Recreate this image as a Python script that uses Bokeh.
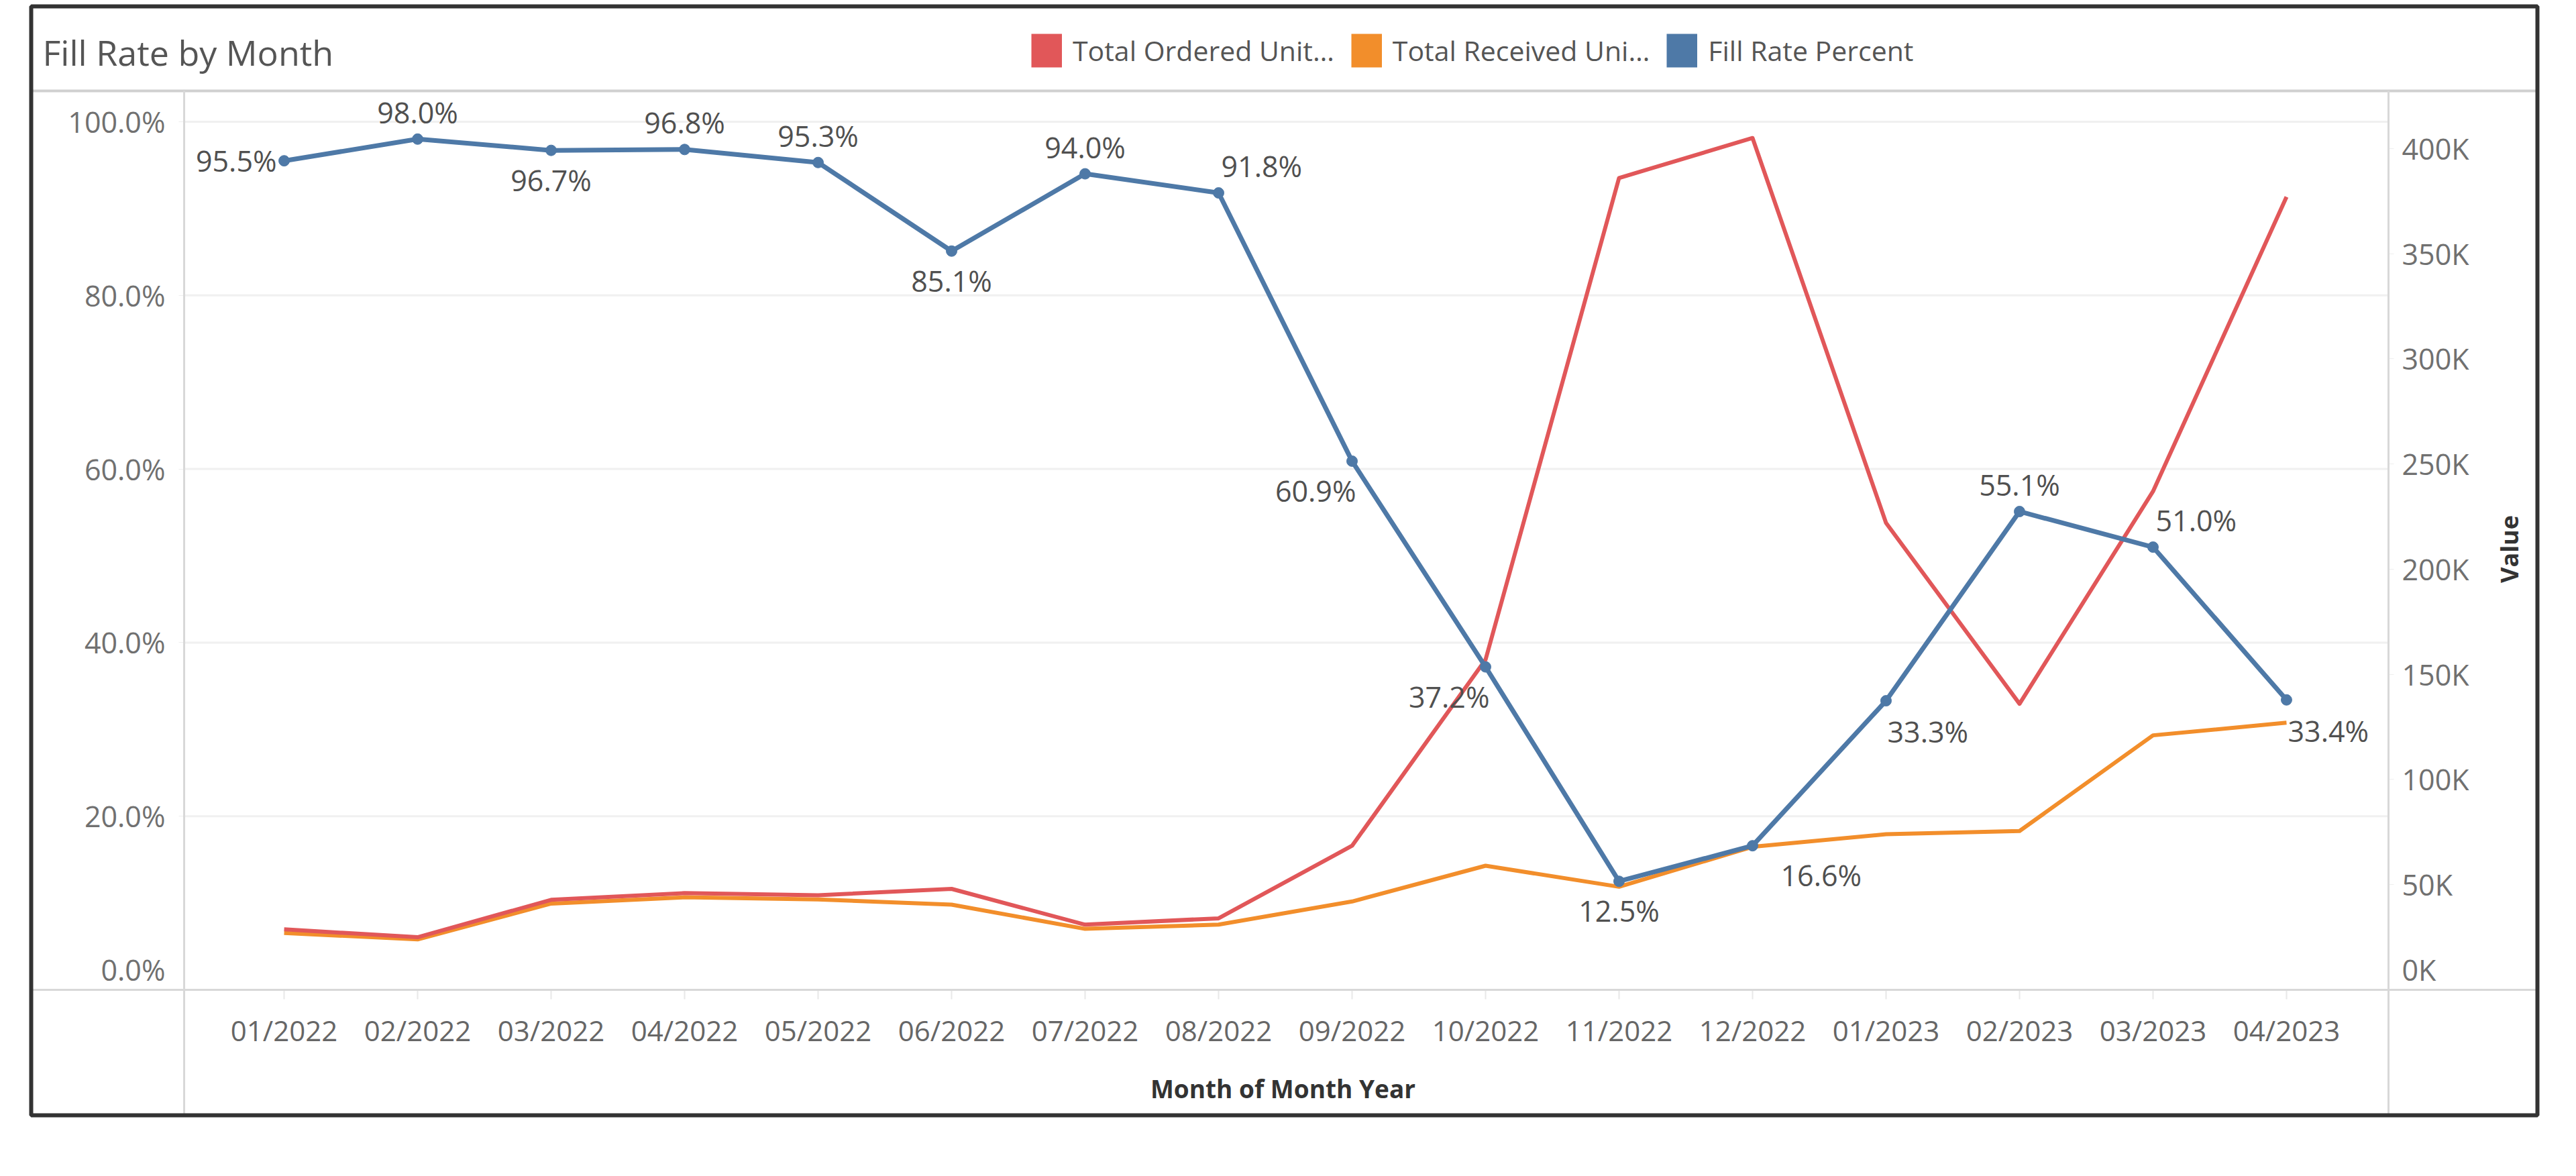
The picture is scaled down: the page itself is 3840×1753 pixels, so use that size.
import math
from bokeh.plotting import figure
from bokeh.models import (Range1d, LinearAxis, FixedTicker, NumeralTickFormatter,
                          CustomJSTickFormatter, Legend, LegendItem, ColumnDataSource,
                          BoxAnnotation, Label)
from bokeh.core.properties import value
from bokeh.embed import file_html
from bokeh.resources import INLINE

# ---------------- data ----------------
chart_title = "Fill Rate by Month"
months = ["01/2022", "02/2022", "03/2022", "04/2022", "05/2022", "06/2022", "07/2022", "08/2022",
          "09/2022", "10/2022", "11/2022", "12/2022", "01/2023", "02/2023", "03/2023", "04/2023"]
fill_rate_pct = [95.5, 98.0, 96.7, 96.8, 95.3, 85.1, 94.0, 91.8,
                 60.9, 37.2, 12.5, 16.6, 33.3, 55.1, 51.0, 33.4]
ordered_units = [28800, 25000, 42800, 46000, 45000, 48000, 31000, 34000,
                 68500, 157000, 386000, 405000, 222000, 136000, 237000, 377000]
received_units = [27000, 24000, 41000, 44000, 43000, 40500, 29000, 31000,
                  42000, 59000, 49000, 68000, 74000, 75500, 121000, 127000]
pct_ticks = [0.0, 0.2, 0.4, 0.6, 0.8, 1.0]
unit_ticks = [0, 50000, 100000, 150000, 200000, 250000, 300000, 350000, 400000]
series_names = ["Total Ordered Unit…", "Total Received Uni…", "Fill Rate Percent"]

# label placement per point (style only)
label_place = ["left", "above", "below", "above", "above", "below", "above", "above_right",
               "below_left", "below_left", "below", "below_right_far", "below_right", "above",
               "above_right", "below_right"]

# ---------------- layout constants (figure px, origin top-left) ----------------
W, H = 3824, 1737
FL, FT, FR, FB = 274, 135, 3560, 1475           # data pane edges
OUT_L, OUT_T, OUT_R, OUT_B = 46, 9, 3782, 1662  # outer border (line centres)
TITLE_X, TITLE_CY = 63, 77
LEG_X, LEG_TOP, LEG_H = 1537, 49, 54
X0, X1 = -0.749, 15.764                          # x data at pane edges
Y1 = 1.0355                                      # fill-rate at pane top
U1 = 427400                                      # units at pane top

FONT = "Open Sans"
RED, ORANGE, BLUE = "#e15759", "#f28e2b", "#4e79a7"
TICK_COLOR = "#707070"
TICK_SIZE = "43px"

x = list(range(len(months)))
fill_frac = [v / 100.0 for v in fill_rate_pct]

# the plot frame covers the whole canvas; the pane is a sub-region of it
ppx = (FR - FL) / (X1 - X0)
ppy = (FB - FT) / Y1
ppu = (FB - FT) / U1
x_range = Range1d(X0 - FL / ppx, X1 + (W - FR) / ppx)
y_range = Range1d(-(H - FB) / ppy, Y1 + FT / ppy)
u_range = Range1d(-(H - FB) / ppu, U1 + FT / ppu)

p = figure(width=W, height=H, output_backend="svg", toolbar_location=None, tools="",
           x_range=x_range, y_range=y_range,
           min_border_left=0, min_border_right=0, min_border_top=0, min_border_bottom=0,
           background_fill_color="white", border_fill_color="white", outline_line_color=None)
p.extra_y_ranges = {"units": u_range}
try:
    p.title = None
except Exception:
    p.title.text = ""
    p.title.visible = False
p.xgrid.visible = False
p.ygrid.visible = False

# axes pinned to the pane edges
p.xaxis.fixed_location = 0
p.xaxis.ticker = FixedTicker(ticks=x)
p.xaxis.major_label_overrides = {i: m for i, m in enumerate(months)}
p.xaxis.axis_label = "Month of Month Year"
p.xaxis.axis_label_text_font = FONT
p.xaxis.axis_label_text_font_size = "37px"
p.xaxis.axis_label_text_font_style = "bold"
p.xaxis.axis_label_text_color = "#333333"
p.xaxis.axis_label_standoff = 30
p.xaxis.major_label_text_font = FONT
p.xaxis.major_label_text_font_size = "42px"
p.xaxis.major_label_text_color = "#666666"
p.xaxis.major_label_standoff = 17
p.xaxis.axis_line_color = None
p.xaxis.major_tick_line_color = "#e8e8e8"
p.xaxis.major_tick_line_width = 2
p.xaxis.major_tick_in = 0
p.xaxis.major_tick_out = 14
p.xaxis.minor_tick_line_color = None

# the bottom ("0") tick label is lifted inside the pane, as in the source dashboard
p.yaxis.fixed_location = X0
p.yaxis.ticker = FixedTicker(ticks=pct_ticks)
p.yaxis.formatter = NumeralTickFormatter(format="0.0%")
p.yaxis.major_label_overrides = {0: ""}
p.yaxis.major_label_text_font = FONT
p.yaxis.major_label_text_font_size = TICK_SIZE
p.yaxis.major_label_text_color = TICK_COLOR
p.yaxis.major_label_standoff = 20
p.yaxis.axis_line_color = None
p.yaxis.major_tick_line_color = "#eeeeee"
p.yaxis.major_tick_in = 0
p.yaxis.major_tick_out = 8
p.yaxis.minor_tick_line_color = None

raxis = LinearAxis(y_range_name="units", fixed_location=X1, ticker=FixedTicker(ticks=unit_ticks),
                   formatter=CustomJSTickFormatter(code="return (tick/1000).toFixed(0) + 'K';"))
raxis.major_label_overrides = {0: ""}
raxis.axis_label = "Value"
raxis.axis_label_text_font = FONT
raxis.axis_label_text_font_size = "36px"
raxis.axis_label_text_font_style = "bold"
raxis.axis_label_text_color = "#333333"
raxis.axis_label_standoff = 57
try:
    raxis.axis_label_orientation = math.pi / 2
except Exception:
    pass
raxis.major_label_text_font = FONT
raxis.major_label_text_font_size = TICK_SIZE
raxis.major_label_text_color = TICK_COLOR
raxis.major_label_standoff = 12
raxis.axis_line_color = None
raxis.major_tick_line_color = "#eeeeee"
raxis.major_tick_in = 0
raxis.major_tick_out = 8
raxis.minor_tick_line_color = None
p.add_layout(raxis, "right")

# lifted zero labels for both value axes
p.text(x=[X0], y=[pct_ticks[0]], text=["%.1f%%" % (pct_ticks[0] * 100)], x_offset=-28,
       y_offset=-30, text_align="right", text_baseline="middle", text_font=value(FONT),
       text_font_size=TICK_SIZE, text_color=TICK_COLOR)
p.text(x=[X1], y=[unit_ticks[0]], y_range_name="units", text=["%dK" % (unit_ticks[0] // 1000)],
       x_offset=20, y_offset=-30, text_align="left", text_baseline="middle",
       text_font=value(FONT), text_font_size=TICK_SIZE, text_color=TICK_COLOR)

# horizontal gridlines across the pane only
grid_y = pct_ticks[1:]
p.segment(x0=[X0] * len(grid_y), x1=[X1] * len(grid_y), y0=grid_y, y1=grid_y,
          line_color="#f0f0f0", line_width=3)

# series
p.line(x, received_units, y_range_name="units", line_color=ORANGE, line_width=6, line_join="round")
p.line(x, ordered_units, y_range_name="units", line_color=RED, line_width=6, line_join="round")
p.line(x, fill_frac, line_color=BLUE, line_width=7, line_join="round")
p.scatter(x, fill_frac, size=16, fill_color=BLUE, line_color=BLUE)

# data labels
place_style = {
    "left": dict(align="right", dx=-11, dy=0),
    "above": dict(align="center", dx=0, dy=-40),
    "below": dict(align="center", dx=0, dy=44),
    "above_right": dict(align="left", dx=4, dy=-40),
    "below_left": dict(align="right", dx=6, dy=44),
    "below_right": dict(align="left", dx=2, dy=46),
    "below_right_far": dict(align="left", dx=42, dy=44),
}
for name, st in place_style.items():
    idx = [i for i, pl in enumerate(label_place) if pl == name]
    if not idx:
        continue
    src = ColumnDataSource(dict(x=[x[i] for i in idx], y=[fill_frac[i] for i in idx],
                                t=["%.1f%%" % fill_rate_pct[i] for i in idx]))
    p.text(x="x", y="y", text="t", source=src, x_offset=st["dx"], y_offset=st["dy"],
           text_align=st["align"], text_baseline="middle", text_font=value(FONT),
           text_font_size="43px", text_color="#505050")

# title
p.add_layout(Label(x=TITLE_X, y=H - TITLE_CY, x_units="screen", y_units="screen",
                   text=chart_title, text_font=FONT, text_font_size="52px",
                   text_color="#555555", text_align="left", text_baseline="middle"))

# legend: swatch renderers lie outside the visible ranges (only their legend glyph shows);
# a 50px line stroke over a 46px glyph box gives the square colour chip
swatches = []
for c in (RED, ORANGE, BLUE):
    swatches.append(p.line([-60, -59], [-9, -9], line_color=c, line_width=50, line_cap="butt"))
legend = Legend(items=[LegendItem(label=n, renderers=[r]) for n, r in zip(series_names, swatches)],
                orientation="horizontal", location=(LEG_X, H - LEG_TOP - LEG_H),
                glyph_width=46, glyph_height=LEG_H, label_height=LEG_H, label_standoff=16,
                spacing=25, padding=0, margin=0, border_line_alpha=0,
                background_fill_alpha=0, label_text_font=FONT, label_text_font_size="41px",
                label_text_color="#555555", label_text_baseline="middle")
p.add_layout(legend, "center")


# dashboard frame: outer border and pane separators
def band(l, r, top, bottom, color):
    return BoxAnnotation(left=l, right=r, top=H - top, bottom=H - bottom, left_units="screen",
                         right_units="screen", top_units="screen", bottom_units="screen",
                         fill_color=color, fill_alpha=1, line_alpha=0, level="overlay")


p.add_layout(band(OUT_L, OUT_R, FT - 2, FT + 2, "#d0d0d0"))
p.add_layout(band(OUT_L, OUT_R, FB - 1.5, FB + 1.5, "#d8d8d8"))
p.add_layout(band(FL - 1.5, FL + 1.5, FT, OUT_B, "#d8d8d8"))
p.add_layout(band(FR - 1.5, FR + 1.5, FT, OUT_B, "#d8d8d8"))
p.add_layout(BoxAnnotation(left=OUT_L, right=OUT_R, top=H - OUT_T, bottom=H - OUT_B,
                           left_units="screen", right_units="screen", top_units="screen",
                           bottom_units="screen", fill_alpha=0, line_color="#333333",
                           line_alpha=1, line_width=6, level="overlay"))

open("out.html", "w").write(file_html(p, INLINE))
